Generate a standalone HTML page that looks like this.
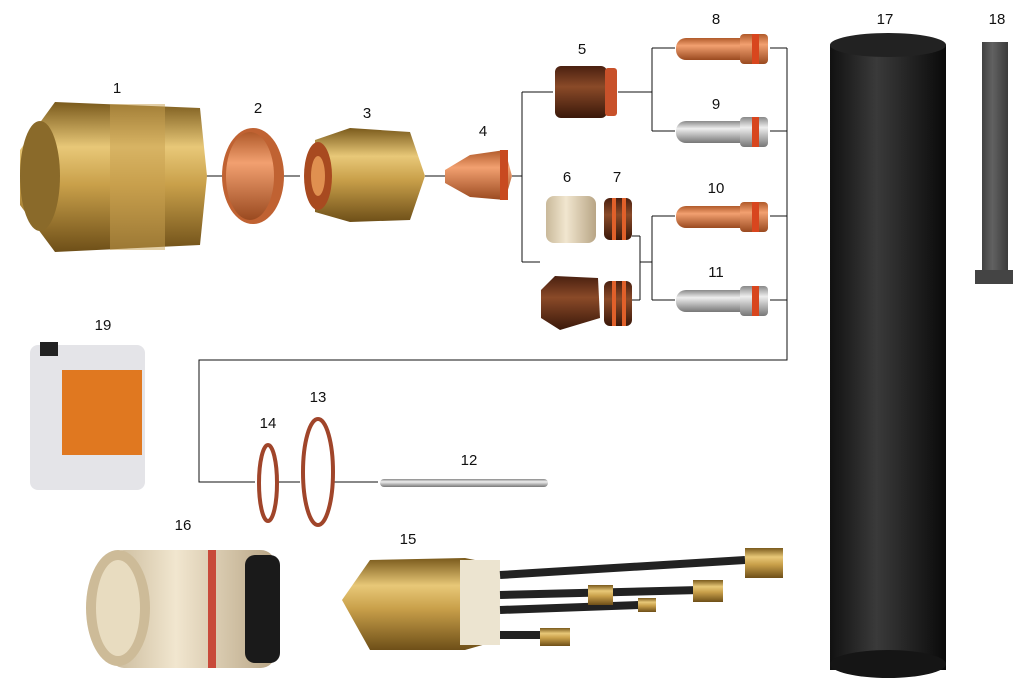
<!DOCTYPE html>
<html><head><meta charset="utf-8"><style>
html,body{margin:0;padding:0;background:#fff;}
svg{display:block;}
text{font-family:"Liberation Sans",Arial,sans-serif;font-size:15px;fill:#111;text-anchor:middle;}
</style></head><body>
<svg width="1021" height="684" viewBox="0 0 1021 684" xmlns="http://www.w3.org/2000/svg">
<defs>
<linearGradient id="brass" x1="0" y1="0" x2="0" y2="1"><stop offset="0" stop-color="#7a5a1c"/><stop offset=".3" stop-color="#e8c878"/><stop offset=".55" stop-color="#c9a04a"/><stop offset="1" stop-color="#6e4f18"/></linearGradient>
<linearGradient id="copper" x1="0" y1="0" x2="0" y2="1"><stop offset="0" stop-color="#b05a2a"/><stop offset=".35" stop-color="#f2a070"/><stop offset="1" stop-color="#9a4a20"/></linearGradient>
<linearGradient id="silver" x1="0" y1="0" x2="0" y2="1"><stop offset="0" stop-color="#888"/><stop offset=".35" stop-color="#eee"/><stop offset="1" stop-color="#777"/></linearGradient>
<linearGradient id="brown" x1="0" y1="0" x2="0" y2="1"><stop offset="0" stop-color="#4a2010"/><stop offset=".4" stop-color="#8a4a28"/><stop offset="1" stop-color="#3a180a"/></linearGradient>
<linearGradient id="black" x1="0" y1="0" x2="1" y2="0"><stop offset="0" stop-color="#111"/><stop offset=".4" stop-color="#3a3a3a"/><stop offset="1" stop-color="#0a0a0a"/></linearGradient>
<linearGradient id="cream" x1="0" y1="0" x2="1" y2="0"><stop offset="0" stop-color="#c9b99a"/><stop offset=".4" stop-color="#f1e6cf"/><stop offset="1" stop-color="#b8a585"/></linearGradient>
</defs>
<g stroke="#111" stroke-width="1" fill="none" shape-rendering="crispEdges">
<path d="M205 176H222M283 176H300M425 176H445M512 176H522M522 92V262M522 92H553M522 262H540"/>
<path d="M618 92H652M652 48V131M652 48H675M652 131H675"/>
<path d="M632 236H640M632 300H640M640 236V300M640 262H652M652 216V300M652 216H675M652 300H675"/>
<path d="M770 48H787M770 131H787M770 216H787M770 300H787M787 48V360H199V482H255M278 482H300M333 482H378"/>
</g>
<!-- 1 -->
<path d="M20 150 L55 102 L200 108 L207 176 L200 245 L55 252 L20 205 Z" fill="url(#brass)"/>
<ellipse cx="40" cy="176" rx="20" ry="55" fill="#8a6a2a"/>
<rect x="110" y="104" width="55" height="146" fill="#c8a050" opacity=".5"/>
<!-- 2 -->
<ellipse cx="253" cy="176" rx="31" ry="48" fill="#c06232"/>
<ellipse cx="250" cy="176" rx="24" ry="44" fill="url(#copper)"/>
<!-- 3 -->
<path d="M315 140 L350 128 L410 132 L425 176 L410 220 L350 222 L315 212 Z" fill="url(#brass)"/>
<ellipse cx="318" cy="176" rx="14" ry="34" fill="#a84a20"/>
<ellipse cx="318" cy="176" rx="7" ry="20" fill="#e09050"/>
<!-- 4 -->
<path d="M445 170 L470 155 L505 150 L512 176 L505 200 L470 197 L445 183 Z" fill="url(#copper)"/>
<rect x="500" y="150" width="8" height="50" fill="#c84a20"/>
<!-- 5 -->
<rect x="555" y="66" width="52" height="52" rx="6" fill="url(#brown)"/>
<rect x="605" y="68" width="12" height="48" rx="3" fill="#c8512a"/>
<!-- 6 7 -->
<rect x="546" y="196" width="50" height="47" rx="8" fill="url(#cream)"/>
<rect x="604" y="198" width="28" height="42" rx="6" fill="url(#brown)"/>
<rect x="612" y="198" width="4" height="42" fill="#e0602a"/><rect x="622" y="198" width="4" height="42" fill="#e0602a"/>
<path d="M541 290 L555 276 L598 278 L600 318 L560 330 L541 318 Z" fill="url(#brown)"/>
<rect x="604" y="281" width="28" height="45" rx="6" fill="url(#brown)"/>
<rect x="612" y="281" width="4" height="45" fill="#e0602a"/><rect x="622" y="281" width="4" height="45" fill="#e0602a"/>
<!-- 8-11 -->
<rect x="676" y="38" width="80" height="22" rx="10" fill="url(#copper)"/><rect x="740" y="34" width="28" height="30" rx="4" fill="url(#copper)"/><rect x="752" y="34" width="7" height="30" fill="#d8461e"/>
<rect x="676" y="121" width="80" height="22" rx="10" fill="url(#silver)"/><rect x="740" y="117" width="28" height="30" rx="4" fill="url(#silver)"/><rect x="752" y="117" width="7" height="30" fill="#d8461e"/>
<rect x="676" y="206" width="80" height="22" rx="10" fill="url(#copper)"/><rect x="740" y="202" width="28" height="30" rx="4" fill="url(#copper)"/><rect x="752" y="202" width="7" height="30" fill="#d8461e"/>
<rect x="676" y="290" width="80" height="22" rx="10" fill="url(#silver)"/><rect x="740" y="286" width="28" height="30" rx="4" fill="url(#silver)"/><rect x="752" y="286" width="7" height="30" fill="#d8461e"/>
<!-- 17 -->
<rect x="830" y="45" width="116" height="625" fill="url(#black)"/>
<ellipse cx="888" cy="45" rx="58" ry="12" fill="#222"/>
<ellipse cx="888" cy="664" rx="58" ry="14" fill="#151515"/>
<!-- 18 -->
<rect x="982" y="42" width="26" height="240" fill="url(#black)" opacity=".8"/>
<rect x="975" y="270" width="38" height="14" fill="#444"/>
<!-- 19 -->
<rect x="30" y="345" width="115" height="145" rx="8" fill="#e4e4e8"/>
<rect x="40" y="342" width="18" height="14" fill="#222"/>
<rect x="62" y="370" width="80" height="85" fill="#e07820"/>
<!-- 14 13 -->
<ellipse cx="268" cy="483" rx="9" ry="38" fill="none" stroke="#a0452a" stroke-width="4"/>
<ellipse cx="318" cy="472" rx="15" ry="53" fill="none" stroke="#a0452a" stroke-width="4"/>
<!-- 12 -->
<rect x="380" y="479" width="168" height="8" rx="4" fill="url(#silver)"/>
<!-- 16 -->
<rect x="110" y="550" width="165" height="118" rx="14" fill="url(#cream)"/>
<rect x="245" y="555" width="35" height="108" rx="10" fill="#1a1a1a"/>
<rect x="208" y="550" width="8" height="118" fill="#c84a3a"/>
<ellipse cx="118" cy="608" rx="32" ry="58" fill="#cdbb98"/>
<ellipse cx="118" cy="608" rx="22" ry="48" fill="#e8dcc0"/>
<!-- 15 -->
<path d="M342 600 L370 560 L465 558 L500 565 L500 640 L465 650 L370 650 Z" fill="url(#brass)"/>
<rect x="460" y="560" width="40" height="85" fill="#ece4d0"/>
<g stroke="#222" stroke-width="8" fill="none">
<path d="M500 575 L745 560"/><path d="M500 595 L700 590"/><path d="M500 610 L640 605"/><path d="M500 635 L545 635"/>
</g>
<rect x="745" y="548" width="38" height="30" fill="url(#brass)"/>
<rect x="693" y="580" width="30" height="22" fill="url(#brass)"/>
<rect x="588" y="585" width="25" height="20" fill="url(#brass)"/>
<rect x="638" y="598" width="18" height="14" fill="url(#brass)"/>
<rect x="540" y="628" width="30" height="18" fill="url(#brass)"/>
<!-- labels -->
<text x="117" y="93">1</text><text x="258" y="113">2</text><text x="367" y="118">3</text><text x="483" y="136">4</text>
<text x="582" y="54">5</text><text x="567" y="182">6</text><text x="617" y="182">7</text>
<text x="716" y="24">8</text><text x="716" y="109">9</text><text x="716" y="193">10</text><text x="716" y="277">11</text>
<text x="885" y="24">17</text><text x="997" y="24">18</text><text x="103" y="330">19</text>
<text x="268" y="428">14</text><text x="318" y="402">13</text><text x="469" y="465">12</text>
<text x="183" y="530">16</text><text x="408" y="544">15</text>
</svg>
</body></html>
